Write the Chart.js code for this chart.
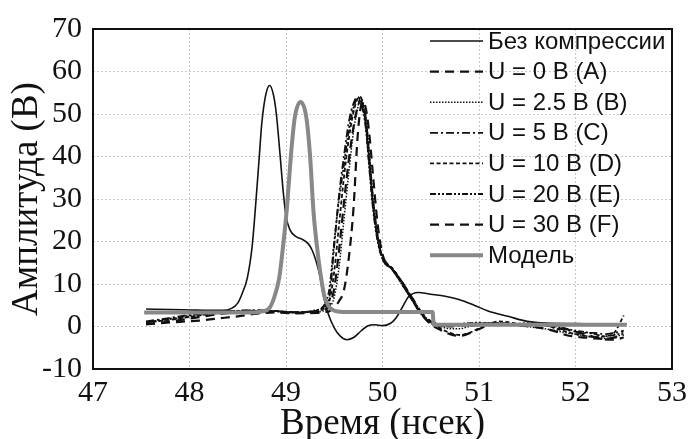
<!DOCTYPE html>
<html>
<head>
<meta charset="utf-8">
<script src="https://cdn.jsdelivr.net/npm/chart.js@4.4.0/dist/chart.umd.min.js"></script>
<style>
  html, body { margin: 0; padding: 0; background: #fff; }
  #wrap { width: 693px; height: 439px; }
</style>
</head>
<body>
<div id="wrap"><canvas id="grafico" width="693" height="439"></canvas></div>
<script>
// Метки осей
const xTicks = [47, 48, 49, 50, 51, 52, 53];
const yTicks = [-10, 0, 10, 20, 30, 40, 50, 60, 70];

// Без компрессии
const tRef = [47.55, 47.8, 48.0, 48.2, 48.35, 48.43, 48.5, 48.55, 48.6, 48.65, 48.68, 48.72, 48.75, 48.79, 48.83, 48.87, 48.9, 48.94, 48.97, 49.0, 49.04, 49.1, 49.17, 49.23, 49.27, 49.31, 49.35, 49.39, 49.44, 49.5, 49.56, 49.63, 49.7, 49.78, 49.85, 49.92, 50.0, 50.08, 50.14, 50.2, 50.27, 50.37, 50.5, 50.65, 50.8, 50.95, 51.1, 51.3, 51.5, 51.7, 52.0, 52.3, 52.53];
const vRef = [4.1, 4.0, 3.9, 3.8, 3.8, 4.2, 5.5, 8, 11.5, 19, 27, 39, 48, 54.5, 56.7, 54.5, 50, 40, 32, 26, 22.8, 21.2, 20.5, 19.5, 18, 15.5, 12, 7, 2.8, -0.3, -2.2, -3.1, -2.6, -1.0, 0.2, 0.4, 0.2, 0.7, 2, 4.3, 7, 8, 7.6, 7.1, 6.3, 5, 3.6, 2.4, 1.2, 0.8, 0.7, 0.6, 0.6];

// Модель
const tModel = [47.53, 48.6, 48.76, 48.83, 48.88, 48.93, 48.97, 49.01, 49.05, 49.09, 49.15, 49.21, 49.25, 49.285, 49.32, 49.36, 49.4, 49.45, 49.52, 49.6, 50.52, 50.53, 52.53];
const vModel = [3.3, 3.3, 3.6, 4.4, 7, 11.5, 19, 28, 40, 49, 52.8, 49.3, 40, 27, 19, 12, 7, 4.5, 3.6, 3.4, 3.4, 0.4, 0.4];

// Сигналы после компрессии (общая сетка времени)
const tComp = [47.55, 47.7, 47.9, 48.1, 48.3, 48.5, 48.7, 48.9, 49.1, 49.3, 49.4, 49.45, 49.5, 49.55, 49.6, 49.65, 49.7, 49.74, 49.77, 49.8, 49.83, 49.86, 49.9, 49.95, 50.0, 50.1, 50.2, 50.3, 50.4, 50.5, 50.6, 50.7, 50.8, 50.9, 51.0, 51.1, 51.2, 51.3, 51.4, 51.5, 51.6, 51.7, 51.8, 51.9, 52.0, 52.1, 52.2, 52.3, 52.4, 52.5];
const vA = [0.6, 0.8, 1.1, 1.4, 1.9, 2.4, 3.0, 3.3, 3.1, 3.2, 3.4, 3.6, 4.5, 6, 8.5, 16, 28, 44, 51, 53, 51, 46, 36, 24, 17, 13.5, 10.5, 6.5, 3, 0.5, -0.8, -1.8, -2.2, -1.6, -0.6, 0.3, 0.8, 0.6, 0.2, 0.1, -0.2, -0.6, -1.2, -2.0, -2.4, -2.6, -2.8, -2.9, -2.6, -2.0];
const vB = [1.0, 1.4, 2.0, 2.6, 3.1, 3.5, 3.7, 3.6, 3.3, 3.4, 3.8, 4.5, 7, 14, 25, 36, 46, 51, 54, 52.5, 49, 42, 31, 21, 16, 13.5, 10.5, 7, 3.5, 1, 0, -0.5, -0.5, 0, 0.5, 0.8, 0.9, 0.6, 0.3, 0, -0.3, -0.6, -1.0, -1.5, -1.8, -2.2, -2.6, -2.8, -2.5, -1.8];
const vC = [1.2, 1.7, 2.4, 3.0, 3.5, 3.7, 3.8, 3.6, 3.3, 3.7, 4.8, 7, 19, 31, 40, 48, 52.5, 54, 53.5, 51.5, 47, 40, 29, 20.5, 16.5, 13.5, 10, 6.5, 3, 1, 0.2, 0, 0.2, 0.5, 0.8, 0.6, 0.4, 0.3, 0.4, 0.6, 0.5, 0.2, -0.3, -0.8, -1.2, -1.5, -1.5, -1.8, -1.5, -1.0];
const vD = [0.9, 1.3, 1.9, 2.6, 3.2, 3.6, 3.7, 3.6, 3.4, 3.6, 4.4, 6, 13, 24, 35, 44, 50.5, 53.5, 54, 52, 47, 39, 29, 21, 16, 13.8, 10.5, 7, 3.2, 1, -0.5, -1.5, -2, -1.5, -0.4, 0.6, 1.2, 1.0, 0.7, 0.6, 0.5, 0.2, -0.5, -1.2, -1.8, -2.2, -2.5, -2.3, -1.5, 2.6];
const vE = [1.0, 1.5, 2.2, 2.9, 3.4, 3.7, 3.8, 3.6, 3.4, 3.8, 5.2, 9, 20, 30, 38, 46, 51.5, 53.5, 53, 50.5, 46, 38, 28, 20, 16, 13.5, 10, 6.5, 3, 0.8, 0, 0.3, 0.6, 0.8, 0.9, 0.7, 0.5, 0.4, 0.6, 0.8, 0.7, 0.4, 0, -0.5, -1.0, -1.3, -1.8, -2.3, -2.0, -1.5];
const vF = [0.5, 0.9, 1.5, 2.2, 2.9, 3.4, 3.6, 3.5, 3.2, 3.4, 4.0, 5, 9, 18, 29, 39, 47, 51.5, 53, 52, 48, 40, 30, 21, 16, 13.5, 10.5, 7, 3.5, 1.2, 0.6, 0.4, 0.3, 0.2, 0.4, 0.7, 0.8, 0.6, 0.4, 0.5, 0.6, 0.4, 0, -0.6, -1.3, -1.8, -2.5, -3.0, -3.1, -2.6];

const seriesLabels = ["Без компрессии", "U = 0 В (A)", "U = 2.5 В (B)", "U = 5 В (C)", "U = 10 В (D)", "U = 20 В (E)", "U = 30 В (F)", "Модель"];

const serif = '"Liberation Serif", "Times New Roman", serif';
const sans = '"Liberation Sans", Arial, sans-serif';

// пары {x, y} для линейной оси X
function pares(t, v) {
  return t.map((x, i) => ({ x: x, y: v[i] }));
}

// Рамка вокруг области графика
const framePlugin = {
  id: "ramka",
  afterDraw(chart) {
    const a = chart.chartArea;
    const ctx = chart.ctx;
    ctx.save();
    ctx.strokeStyle = "#111";
    ctx.lineWidth = 2;
    ctx.setLineDash([]);
    ctx.strokeRect(a.left, a.top, a.right - a.left, a.bottom - a.top);
    ctx.restore();
  },
};

// Легенда внутри области графика
const legendPlugin = {
  id: "legenda",
  afterDraw(chart) {
    const ctx = chart.ctx;
    ctx.save();
    ctx.font = "24px " + sans;
    ctx.textBaseline = "middle";
    ctx.textAlign = "left";
    chart.data.datasets.forEach((ds, i) => {
      const y = 41 + i * 30.6;
      ctx.beginPath();
      ctx.strokeStyle = ds.borderColor;
      ctx.lineWidth = ds.borderWidth;
      ctx.setLineDash(ds.borderDash || []);
      ctx.moveTo(430, y);
      ctx.lineTo(483, y);
      ctx.stroke();
      ctx.setLineDash([]);
      ctx.fillStyle = "#111";
      ctx.fillText(ds.label, 488, y + 1);
    });
    ctx.restore();
  },
};

function linha(label, data, dash, width, color, order) {
  return {
    label: label,
    data: data,
    borderColor: color,
    borderWidth: width,
    borderDash: dash,
    pointRadius: 0,
    fill: false,
    cubicInterpolationMode: "monotone",
    order: order,
  };
}

const datasets = [
  linha(seriesLabels[0], pares(tRef, vRef), [], 1.6, "#111", 7),
  linha(seriesLabels[1], pares(tComp, vA), [9, 6], 2.2, "#111", 6),
  linha(seriesLabels[2], pares(tComp, vB), [1.5, 1.5], 1.5, "#111", 5),
  linha(seriesLabels[3], pares(tComp, vC), [8, 3, 2, 3], 1.8, "#111", 4),
  linha(seriesLabels[4], pares(tComp, vD), [4, 2.5], 1.8, "#111", 3),
  linha(seriesLabels[5], pares(tComp, vE), [6, 2, 2, 2, 2, 2], 1.8, "#111", 2),
  linha(seriesLabels[6], pares(tComp, vF), [9, 6], 2.2, "#111", 1),
  linha(seriesLabels[7], pares(tModel, vModel), [], 4, "#888", 0),
];

const ctx = document.getElementById("grafico").getContext("2d");
new Chart(ctx, {
  type: "line",
  data: { datasets: datasets },
  options: {
    responsive: false,
    animation: false,
    devicePixelRatio: 1,
    layout: { padding: { top: 24, right: 17, left: 0, bottom: 0 } },
    plugins: { legend: { display: false }, tooltip: { enabled: false } },
    scales: {
      x: {
        type: "linear",
        min: 47,
        max: 53,
        afterBuildTicks: (s) => { s.ticks = xTicks.map((v) => ({ value: v })); },
        afterFit: (s) => { s.height = 70; },
        grid: { color: "#c8c8c8", lineWidth: 1, drawTicks: false },
        border: { display: false, dash: [2, 2] },
        ticks: {
          color: "#111",
          font: { family: serif, size: 30 },
          padding: 6,
          maxRotation: 0,
          autoSkip: false,
          callback: (v) => String(v),
        },
        title: {
          display: true,
          text: "Время (нсек)",
          color: "#111",
          font: { family: serif, size: 37, lineHeight: 1 },
          padding: { top: 0, bottom: -4 },
        },
      },
      y: {
        min: -10,
        max: 70,
        afterBuildTicks: (s) => { s.ticks = yTicks.map((v) => ({ value: v })); },
        afterFit: (s) => { s.width = 93; },
        grid: { color: "#c8c8c8", lineWidth: 1, drawTicks: false },
        border: { display: false, dash: [2, 2] },
        ticks: {
          color: "#111",
          font: { family: serif, size: 30 },
          padding: 11,
          callback: (v) => String(v),
        },
        title: {
          display: true,
          text: "Амплитуда (В)",
          color: "#111",
          font: { family: serif, size: 37, lineHeight: 1 },
          padding: { top: 9, bottom: 0 },
        },
      },
    },
  },
  plugins: [framePlugin, legendPlugin],
});
</script>
</body>
</html>
